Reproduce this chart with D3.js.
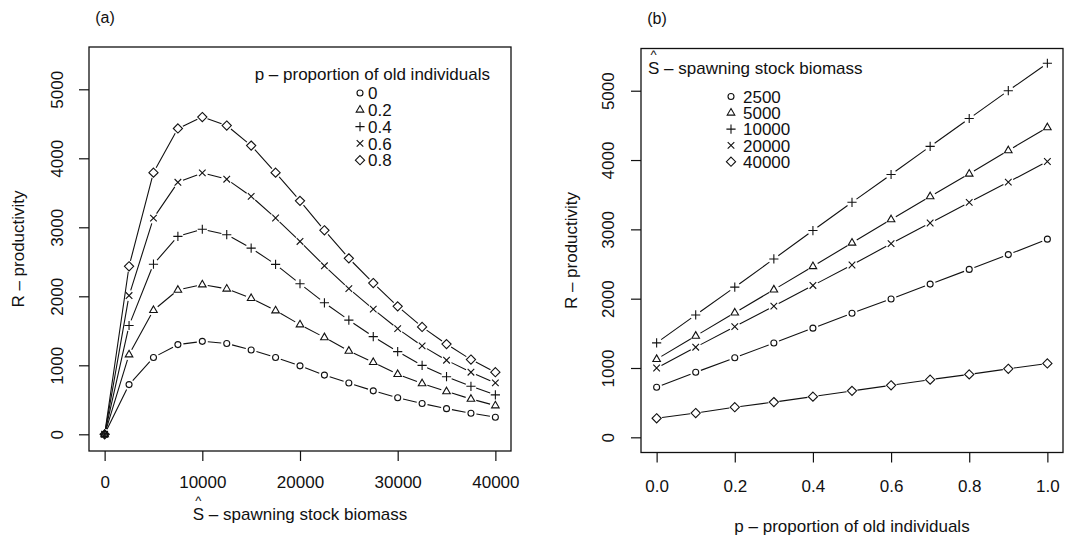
<!DOCTYPE html>
<html>
<head>
<meta charset="utf-8">
<script src="https://cdn.jsdelivr.net/npm/d3@7"></script>
<style>
  html, body { margin: 0; padding: 0; background: #fff; }
  svg text { font-family: "Liberation Sans", Arial, Helvetica, sans-serif; fill: #111; }
</style>
</head>
<body>
<script>
// ---- Panel (a): productivity vs spawning stock biomass, one series per proportion p ----
const biomass = [0, 2500, 5000, 7500, 10000, 12500, 15000, 17500, 20000,
                 22500, 25000, 27500, 30000, 32500, 35000, 37500, 40000];
const propLabels = ["0", "0.2", "0.4", "0.6", "0.8"];
const prodP00 = [0, 720, 1114, 1300, 1347, 1317, 1222, 1114, 992, 858, 744, 630, 530, 446, 372, 306, 248];
const prodP02 = [0, 1155, 1798, 2092, 2170, 2109, 1972, 1793, 1590, 1404, 1208, 1044, 870, 736, 621, 512, 417];
const prodP04 = [0, 1577, 2465, 2869, 2972, 2893, 2698, 2462, 2182, 1906, 1655, 1416, 1198, 999, 835, 696, 572];
const prodP06 = [0, 2011, 3133, 3652, 3788, 3697, 3448, 3135, 2795, 2442, 2112, 1814, 1531, 1282, 1074, 900, 746];
const prodP08 = [0, 2435, 3792, 4432, 4598, 4475, 4184, 3792, 3383, 2957, 2550, 2192, 1854, 1556, 1307, 1083, 900];
const biomassTicks = [0, 10000, 20000, 30000, 40000];

// ---- Panel (b): productivity vs proportion of old individuals, one series per biomass ----
const propOld = [0, 0.1, 0.2, 0.3, 0.4, 0.5, 0.6, 0.7, 0.8, 0.9, 1.0];
const biomassLabels = ["2500", "5000", "10000", "20000", "40000"];
const prodS2500  = [722, 938, 1147, 1361, 1575, 1790, 1996, 2210, 2422, 2636, 2859];
const prodS5000  = [1127, 1463, 1797, 2130, 2466, 2805, 3142, 3474, 3801, 4138, 4470];
const prodS10000 = [1363, 1765, 2166, 2573, 2983, 3390, 3791, 4197, 4599, 5000, 5396];
const prodS20000 = [1000, 1300, 1597, 1892, 2191, 2486, 2795, 3092, 3390, 3682, 3979];
const prodS40000 = [275, 350, 435, 508, 587, 670, 750, 832, 908, 988, 1066];
const propTicks = [0, 0.2, 0.4, 0.6, 0.8, 1.0];

const prodTicks = [0, 1000, 2000, 3000, 4000, 5000];

// plotting symbols: open circle, triangle, plus, cross, diamond
const symbolPaths = [
  "M3,0A3,3 0 1,1 -3,0A3,3 0 1,1 3,0Z",
  "M0,-4.3L3.8,2.3L-3.8,2.3Z",
  "M-4.6,0H4.6M0,-4.6V4.6",
  "M-3.3,-3.3L3.3,3.3M-3.3,3.3L3.3,-3.3",
  "M0,-4.6L4.6,0L0,4.6L-4.6,0Z"
];

const FONT = 17;
const INK = "#111";

const svg = d3.select("body").append("svg")
  .attr("width", 1065).attr("height", 538);

function drawPanel(cfg) {
  const g = svg.append("g");
  const x = d3.scaleLinear().domain(cfg.xDomain).range([cfg.left, cfg.right]);
  const y = d3.scaleLinear().domain(cfg.yDomain).range([cfg.bottom, cfg.top]);

  // series: lines with small gaps around each symbol
  const gap = 5.5;
  cfg.series.forEach((vals, si) => {
    const pts = vals.map((v, i) => [x(cfg.xs[i]), y(v)]);
    let d = "";
    for (let i = 1; i < pts.length; i++) {
      const [x1, y1] = pts[i - 1], [x2, y2] = pts[i];
      const len = Math.hypot(x2 - x1, y2 - y1);
      if (len <= 2 * gap) continue;
      const ux = (x2 - x1) / len, uy = (y2 - y1) / len;
      d += `M${x1 + ux * gap},${y1 + uy * gap}L${x2 - ux * gap},${y2 - uy * gap}`;
    }
    g.append("path").attr("d", d).attr("fill", "none")
      .attr("stroke", INK).attr("stroke-width", 1.1);
    g.selectAll(null).data(pts).enter().append("path")
      .attr("d", symbolPaths[si])
      .attr("transform", p => `translate(${p[0]},${p[1]})`)
      .attr("fill", "none").attr("stroke", INK).attr("stroke-width", 1.1);
  });

  // plot box
  g.append("rect")
    .attr("x", cfg.left).attr("y", cfg.top)
    .attr("width", cfg.right - cfg.left).attr("height", cfg.bottom - cfg.top)
    .attr("fill", "none").attr("stroke", INK).attr("stroke-width", 1.3);

  // x axis
  const xa = g.append("g").attr("transform", `translate(0,${cfg.bottom})`)
    .call(d3.axisBottom(x).tickValues(cfg.xTicks).tickSize(10).tickPadding(0)
      .tickFormat(cfg.xFormat));
  xa.select(".domain").remove();
  xa.attr("font-family", null);
  xa.selectAll("line").attr("stroke", INK).attr("stroke-width", 1.2);
  xa.selectAll("text").attr("font-size", FONT).attr("y", cfg.xLabelY - cfg.bottom)
    .attr("dy", "0.36em").attr("fill", INK);

  // y axis with labels turned parallel to the axis
  const ya = g.append("g").attr("transform", `translate(${cfg.left},0)`)
    .call(d3.axisLeft(y).tickValues(prodTicks).tickSize(10).tickFormat(d3.format("d")));
  ya.select(".domain").remove();
  ya.attr("font-family", null);
  ya.selectAll("line").attr("stroke", INK).attr("stroke-width", 1.2);
  ya.selectAll("text")
    .attr("font-size", FONT).attr("fill", INK)
    .attr("text-anchor", "middle")
    .attr("transform", "rotate(-90)")
    .attr("x", 0).attr("y", cfg.yLabelX - cfg.left).attr("dy", "0.36em");

  // panel tag
  svg.append("text").attr("x", cfg.tag[1]).attr("y", cfg.tag[2])
    .attr("text-anchor", "middle").attr("dy", "0.36em")
    .attr("font-size", 16).text(cfg.tag[0]);

  // y title
  svg.append("text")
    .attr("transform", `translate(${cfg.yTitleX},${(cfg.top + cfg.bottom) / 2}) rotate(-90)`)
    .attr("text-anchor", "middle").attr("dy", "0.36em")
    .attr("font-size", FONT).text("R \u2013 productivity");

  // x title
  cfg.drawXTitle(svg, (cfg.left + cfg.right) / 2);

  // legend
  const L = cfg.legend;
  cfg.legendTitle(svg, L);
  L.labels.forEach((lab, i) => {
    const yy = L.rowY + i * L.rowStep;
    svg.append("path").attr("d", symbolPaths[i])
      .attr("transform", `translate(${L.symX},${yy})`)
      .attr("fill", "none").attr("stroke", INK).attr("stroke-width", 1.1);
    svg.append("text").attr("x", L.textX).attr("y", yy).attr("dy", "0.36em")
      .attr("font-size", FONT).text(lab);
  });
}

// S with a hat placed above it, followed by the rest of the label
function hatTitle(sel, x, y, rest, anchor) {
  const t = sel.append("text").attr("x", x).attr("y", y).attr("dy", "0.36em")
    .attr("text-anchor", anchor).attr("font-size", FONT);
  t.append("tspan").text("S");
  t.append("tspan").text(" \u2013 " + rest);
  const box = t.node().getExtentOfChar(0);
  sel.append("text").attr("x", box.x + box.width / 2).attr("y", y - 14).attr("dy", "0.36em")
    .attr("text-anchor", "middle").attr("font-size", 13).text("^");
}

drawPanel({
  left: 89, right: 511, top: 47, bottom: 451,
  xDomain: [-1600, 41600], yDomain: [-242, 5613],
  xs: biomass,
  series: [prodP00, prodP02, prodP04, prodP06, prodP08],
  xTicks: biomassTicks, xFormat: d3.format("d"),
  xLabelY: 482, yLabelX: 57, yTitleX: 18,
  tag: ["(a)", 105, 17],
  drawXTitle: (s, cx) => hatTitle(s, cx, 514, "spawning stock biomass", "middle"),
  legend: { labels: propLabels, rowY: 93, rowStep: 16.8, symX: 360, textX: 368 },
  legendTitle: (s, L) => s.append("text").attr("x", 490).attr("y", 73.5).attr("dy", "0.36em")
    .attr("text-anchor", "end").attr("font-size", FONT)
    .text("p \u2013 proportion of old individuals")
});

drawPanel({
  left: 641, right: 1063, top: 48.5, bottom: 452.5,
  xDomain: [-0.04, 1.04], yDomain: [-219, 5609],
  xs: propOld,
  series: [prodS2500, prodS5000, prodS10000, prodS20000, prodS40000],
  xTicks: propTicks, xFormat: d3.format(".1f"),
  xLabelY: 486, yLabelX: 608, yTitleX: 571,
  tag: ["(b)", 657, 18],
  drawXTitle: (s, cx) => s.append("text").attr("x", cx).attr("y", 526).attr("dy", "0.36em")
    .attr("text-anchor", "middle").attr("font-size", FONT)
    .text("p \u2013 proportion of old individuals"),
  legend: { labels: biomassLabels, rowY: 96.5, rowStep: 16.3, symX: 731, textX: 743 },
  legendTitle: (s, L) => hatTitle(s, 648, 68, "spawning stock biomass", "start")
});
</script>
</body>
</html>
